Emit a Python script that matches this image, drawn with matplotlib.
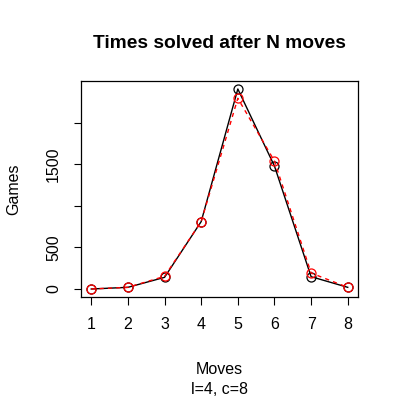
import matplotlib
matplotlib.use("Agg")
import matplotlib.pyplot as plt

plt.rcParams['font.family'] = ['Liberation Sans', 'DejaVu Sans']

moves = [1, 2, 3, 4, 5, 6, 7, 8]
games_black = [0, 20, 140, 810, 2403, 1477, 148, 20]
games_red = [0, 20, 152, 810, 2291, 1537, 192, 20]
yticks = [0, 500, 1000, 1500, 2000]
ytick_labels = ["0", "500", "", "1500", ""]

fig = plt.figure(figsize=(4, 4), dpi=100)
ax = fig.add_axes([0.2025, 0.2575, 0.6925, 0.54])

ax.plot(moves, games_black, color='black', lw=1.0, marker='o', markersize=6.5,
        markerfacecolor='none', markeredgecolor='black', markeredgewidth=0.9)
ax.plot(moves, games_red, color='red', lw=1.0, ls=(0, (3, 3)), marker='o', markersize=6.5,
        markerfacecolor='none', markeredgecolor='red', markeredgewidth=0.9)

ymin, ymax = 0, max(max(games_black), max(games_red))
pad = 0.04 * (ymax - ymin)
ax.set_ylim(ymin - pad, ymax + pad)
xpad = 0.04 * (8 - 1)
ax.set_xlim(1 - xpad, 8 + xpad)

ax.set_xticks(moves)
ax.set_xticklabels([str(m) for m in moves], fontsize=11.5)
ax.set_yticks(yticks)
ax.set_yticklabels(ytick_labels, fontsize=11.5, rotation=90, va='center')
ax.tick_params(direction='out', length=5.4, width=0.8)
ax.tick_params(axis='x', pad=9)
ax.tick_params(axis='y', pad=9)
for s in ax.spines.values():
    s.set_linewidth(0.9)

fig.text(0.548, 0.8925, "Times solved after N moves", ha='center', va='center',
         fontsize=13.8, fontweight='bold')
fig.text(0.548, 0.075, "Moves", ha='center', va='center', fontsize=11.5)
fig.text(0.548, 0.025, "l=4, c=8", ha='center', va='center', fontsize=11.5)
fig.text(0.035, 0.5275, "Games", ha='center', va='center', rotation=90, fontsize=11.5)

fig.savefig("out.png", dpi=100)
